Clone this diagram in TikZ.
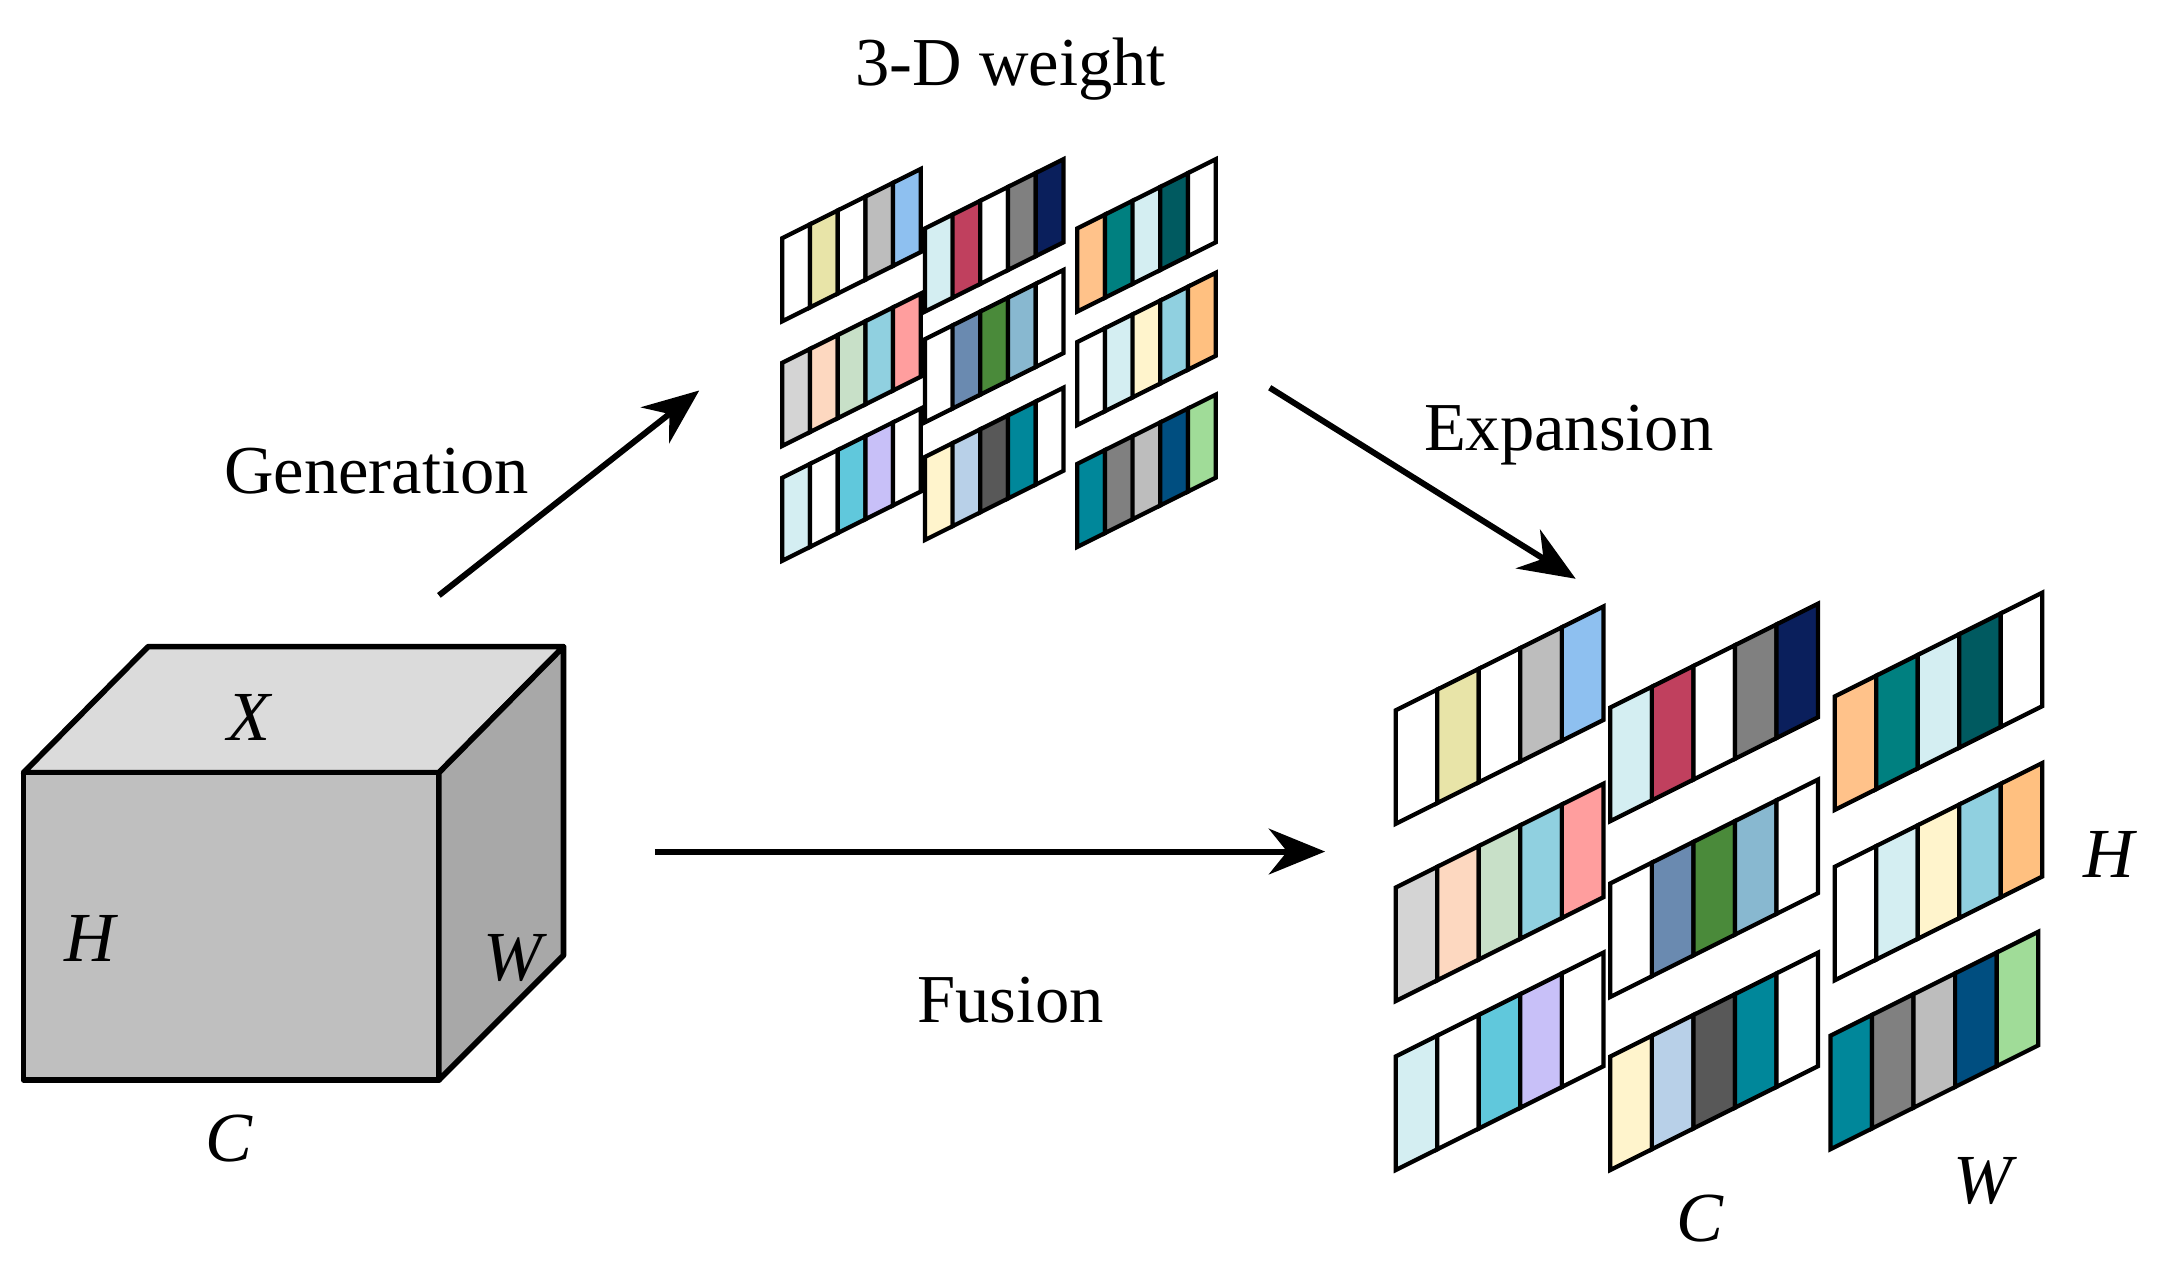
\documentclass[tikz,border=0pt]{standalone}
\usepackage{fontspec}
\setmainfont{Liberation Serif}
\usetikzlibrary{arrows.meta}
\definecolor{py}{HTML}{E8E4A8}\definecolor{g1}{HTML}{BDBDBD}\definecolor{lb}{HTML}{8EC0F0}
\definecolor{ic}{HTML}{D4EEF2}\definecolor{rd}{HTML}{C0405E}\definecolor{g2}{HTML}{808080}\definecolor{nv}{HTML}{0A1F5C}
\definecolor{or}{HTML}{FFC28A}\definecolor{tl}{HTML}{008080}\definecolor{dt}{HTML}{005A60}
\definecolor{g3}{HTML}{D4D4D4}\definecolor{pe}{HTML}{FDD8C0}\definecolor{mg}{HTML}{C8E0C8}\definecolor{sk}{HTML}{90D0E0}\definecolor{pk}{HTML}{FF9E9E}
\definecolor{sb}{HTML}{6A8AB0}\definecolor{gr}{HTML}{4A8A3A}\definecolor{bl}{HTML}{88B8D0}
\definecolor{cr}{HTML}{FFF4CC}\definecolor{or2}{HTML}{FFC080}
\definecolor{cy}{HTML}{60C8DC}\definecolor{lv}{HTML}{C8C0F8}
\definecolor{ls}{HTML}{B8D0E8}\definecolor{dg}{HTML}{585858}\definecolor{tq}{HTML}{00879A}
\definecolor{db}{HTML}{004E80}\definecolor{lg}{HTML}{A0DC98}
\newcommand\mystrip[5]{%
 \foreach \c [count=\i from 0] in {#5}{
   \filldraw[cell, fill=\c] ({#1+\i*#3},{#2-\i*#3/2}) -- ++(#3,-#3/2) -- ++(0,#4) -- ++(-#3,#3/2) -- cycle;
 }}
\begin{document}
\begin{tikzpicture}[x=0.013846cm,y=-0.013846cm,
  cell/.style={draw=black,line width=1.2pt},
  arr/.style={line width=1.7pt,-{Stealth[length=16pt,width=13pt]}},
  lab/.style={font=\fontsize{19.5}{22}\selectfont},
  ilab/.style={font=\fontsize{20}{22}\selectfont\itshape}]
\useasboundingbox (0,0) rectangle (1560,917);
% cube
\filldraw[fill=black!14,line width=1.6pt,line join=round] (17,558) -- (107,467) -- (407,467) -- (317,558) -- cycle;
\filldraw[fill=black!25,line width=1.6pt,line join=round] (17,558) rectangle (317,780);
\filldraw[fill=black!34,line width=1.6pt,line join=round] (317,558) -- (407,467) -- (407,690) -- (317,780) -- cycle;
\node[ilab] (X) at (180,518) {X};
\node[ilab] (H1) at (65,678) {H};
\node[ilab] (W1) at (370,692) {W};
\node[ilab] (C1) at (165,822) {C};
% small grid
\def\wa{20}\def\ha{60}
\mystrip{565}{172}{\wa}{\ha}{white,py,white,g1,lb}
\mystrip{668}{165}{\wa}{\ha}{ic,rd,white,g2,nv}
\mystrip{778}{165}{\wa}{\ha}{or,tl,ic,dt,white}
\mystrip{565}{262}{\wa}{\ha}{g3,pe,mg,sk,pk}
\mystrip{668}{245}{\wa}{\ha}{white,sb,gr,bl,white}
\mystrip{778}{247}{\wa}{\ha}{white,ic,cr,sk,or2}
\mystrip{565}{345}{\wa}{\ha}{ic,white,cy,lv,white}
\mystrip{668}{330}{\wa}{\ha}{cr,ls,dg,tq,white}
\mystrip{778}{335}{\wa}{\ha}{tq,g2,g1,db,lg}
% big grid
\def\wb{30}\def\hb{82}
\mystrip{1008}{513}{\wb}{\hb}{white,py,white,g1,lb}
\mystrip{1163}{511}{\wb}{\hb}{ic,rd,white,g2,nv}
\mystrip{1325}{503}{\wb}{\hb}{or,tl,ic,dt,white}
\mystrip{1008}{641}{\wb}{\hb}{g3,pe,mg,sk,pk}
\mystrip{1163}{638}{\wb}{\hb}{white,sb,gr,bl,white}
\mystrip{1325}{626}{\wb}{\hb}{white,ic,cr,sk,or2}
\mystrip{1008}{763}{\wb}{\hb}{ic,white,cy,lv,white}
\mystrip{1163}{763}{\wb}{\hb}{cr,ls,dg,tq,white}
\mystrip{1322}{748}{\wb}{\hb}{tq,g2,g1,db,lg}
% labels
\node[lab] (t3d) at (730,50) {3-D weight};
\node[lab] (gen) at (272,340) {Generation};
\node[lab] (exp) at (1133,314) {Expansion};
\node[lab] (fus) at (730,722) {Fusion};
\node[ilab] (H2) at (1523,617) {H};
\node[ilab] (W2) at (1432,853) {W};
\node[ilab] (C2) at (1228,880) {C};
% arrows
\coordinate (g0) at (317,430); \coordinate (g1e) at (505,282);
\coordinate (e0) at (917,280); \coordinate (e1) at (1138,418);
\coordinate (f0) at (473,615); \coordinate (f1) at (957,615);
\draw[arr] (g0) -- (g1e);
\draw[arr] (e0) -- (e1);
\draw[arr] (f0) -- (f1);
\end{tikzpicture}
\end{document}
